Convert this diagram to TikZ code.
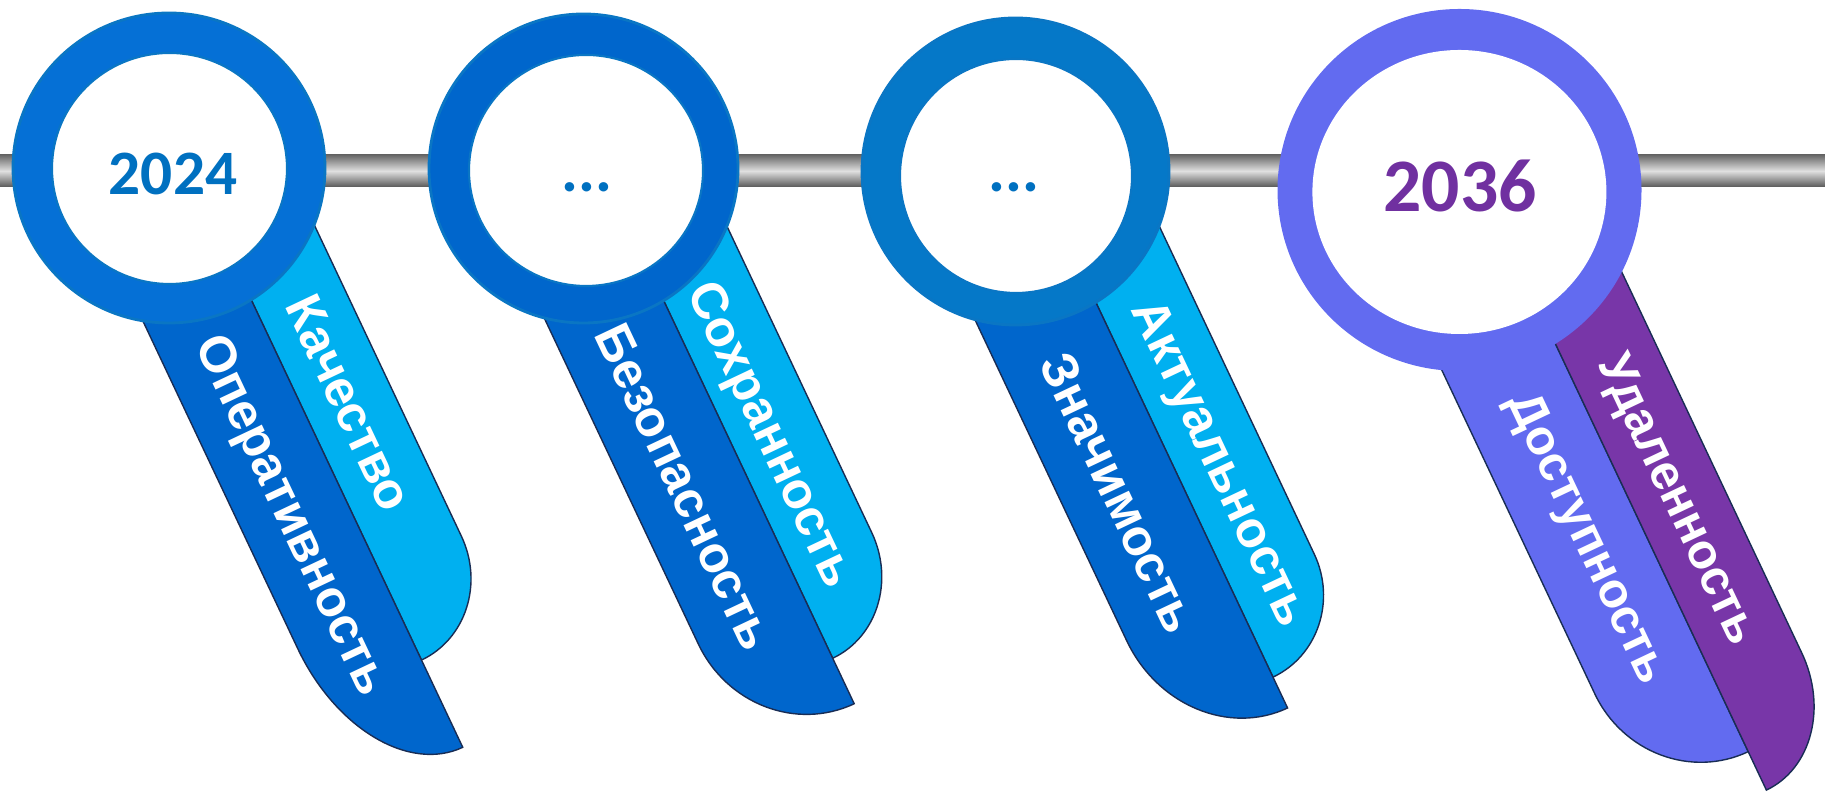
\documentclass[tikz,border=0pt]{standalone}
\usepackage{fontspec}
\setmainfont{Liberation Sans}
\newfontfamily\yearfont{Carlito}
\usetikzlibrary{positioning}
\definecolor{rodgrey}{RGB}{104, 104, 104}
\definecolor{rodlight}{RGB}{224, 224, 224}
\definecolor{ringone}{RGB}{5, 112, 214}
\definecolor{ringtwo}{RGB}{0, 102, 204}
\definecolor{ringthree}{RGB}{5, 120, 200}
\definecolor{ringfour}{RGB}{98, 107, 240}
\definecolor{ringedge}{RGB}{10, 118, 196}
\definecolor{darkrib}{RGB}{0, 102, 204}
\definecolor{lightrib}{RGB}{0, 176, 240}
\definecolor{purplerib}{RGB}{120, 54, 168}
\definecolor{ribedge}{RGB}{25, 45, 85}
\definecolor{yearblue}{RGB}{0, 112, 192}
\definecolor{yearpurple}{RGB}{112, 48, 160}

\begin{document}
\begin{tikzpicture}[
    ribbon/.style={draw=ribedge, line width=0.4pt},
    ribtext/.style={text=white, font=\fontsize{14.5}{16}\selectfont\bfseries, rotate=-64.7},
    yeartext/.style={font=\yearfont\fontsize{18}{20}\selectfont\bfseries, anchor=base, inner sep=0pt}
  ]
  \useasboundingbox (0, 0) rectangle (18.25, 7.92);

  % Rod
  \shade[top color=rodgrey, bottom color=rodgrey!85!black, middle color=rodlight] (0, 6.05) rectangle (18.25, 6.37);

  % 2024: ribbons
  \begin{scope}[shift={(1.69, 6.24)}, rotate=25.3]
    \path[ribbon, fill=lightrib] (0.18, 0) -- (1.07, 0) -- (1.07, -4.577)
      arc[start angle=0, end angle=-90, x radius=0.89, y radius=0.951] -- cycle;
    \path[ribbon, fill=darkrib] (0.18, 0) -- (-0.89, 0) -- (-0.89, -4.895)
      arc[start angle=180, end angle=270, x radius=1.07, y radius=1.598] -- cycle;
    \node[ribtext] (kach) at (0.625, -2.895) {Качество};
    \node[ribtext] (oper) at (-0.401, -3.662) {Оперативность};
  \end{scope}
  % 2024: ring
  \filldraw[fill=ringone, draw=ringedge, line width=0.8pt] (1.69, 6.24) ellipse [x radius=1.56, y radius=1.55];
  \filldraw[fill=white, draw=ringedge, line width=0.6pt] (1.695, 6.235) ellipse [x radius=1.175, y radius=1.155];
  \node[yeartext, yearblue] (y2024) at (1.73, 5.97) {2024};

  % ...: ribbons
  \begin{scope}[shift={(5.835, 6.235)}, rotate=25.3]
    \path[ribbon, fill=lightrib] (0.16, 0) -- (1.05, 0) -- (1.05, -4.523)
      arc[start angle=0, end angle=-90, x radius=0.89, y radius=0.97] -- cycle;
    \path[ribbon, fill=darkrib] (0.16, 0) -- (-0.994, 0) -- (-0.994, -4.791)
      arc[start angle=180, end angle=270, x radius=1.154, y radius=1.205] -- cycle;
    \node[ribtext] (sokhr) at (0.528, -3.207) {Сохранность};
    \node[ribtext] (bezop) at (-0.443, -3.312) {Безопасность};
  \end{scope}
  % ...: ring
  \filldraw[fill=ringtwo, draw=ringedge, line width=0.8pt] (5.835, 6.235) ellipse [x radius=1.545, y radius=1.545];
  \filldraw[fill=white, draw=ringedge, line width=0.6pt] (5.86, 6.215) ellipse [x radius=1.17, y radius=1.155];
  \node[yeartext, yearblue] (dotsa) at (5.87, 6.0) {...};

  % ...: ribbons
  \begin{scope}[shift={(10.155, 6.205)}, rotate=25.3]
    \path[ribbon, fill=lightrib] (0.167, 0) -- (1.066, 0) -- (1.066, -4.734)
      arc[start angle=0, end angle=-90, x radius=0.899, y radius=0.938] -- cycle;
    \path[ribbon, fill=darkrib] (0.167, 0) -- (-1.0, 0) -- (-1.0, -4.717)
      arc[start angle=180, end angle=270, x radius=1.167, y radius=1.296] -- cycle;
    \node[ribtext] (aktual) at (0.575, -3.512) {Актуальность};
    \node[ribtext] (znach) at (-0.436, -3.349) {Значимость};
  \end{scope}
  % ...: ring
  \filldraw[fill=ringthree, draw=ringedge, line width=0.8pt] (10.155, 6.205) ellipse [x radius=1.535, y radius=1.535];
  \filldraw[fill=white, draw=ringedge, line width=0.6pt] (10.16, 6.16) ellipse [x radius=1.16, y radius=1.17];
  \node[yeartext, yearblue] (dotsb) at (10.14, 6.0) {...};

  % 2036: ribbons
  \begin{scope}[shift={(14.595, 6.02)}, rotate=25.3]
    \path[ribbon, fill=ringfour] (0.21, 0) -- (-0.93, 0) -- (-0.93, -5.133)
      arc[start angle=180, end angle=270, x radius=1.14, y radius=1.179] -- cycle;
    \path[ribbon, fill=purplerib] (0.21, 0) -- (1.116, 0) -- (1.116, -5.648)
      arc[start angle=0, end angle=-90, x radius=0.906, y radius=1.089] -- cycle;
    \node[ribtext, font=\fontsize{14}{16}\selectfont\bfseries] (dostup) at (-0.351, -3.697) {Доступность};
    \node[ribtext, font=\fontsize{14}{16}\selectfont\bfseries] (udal) at (0.628, -3.734) {Удаленность};
  \end{scope}
  % 2036: ring
  \fill[ringfour] (14.595, 6.02) ellipse [x radius=1.82, y radius=1.81];
  \fill[white] (14.594, 6.00) ellipse [x radius=1.47, y radius=1.42];
  \node[yeartext, yearpurple, font=\yearfont\fontsize{21.5}{24}\selectfont\bfseries] (y2036) at (14.60, 5.805) {2036};
\end{tikzpicture}
\end{document}
